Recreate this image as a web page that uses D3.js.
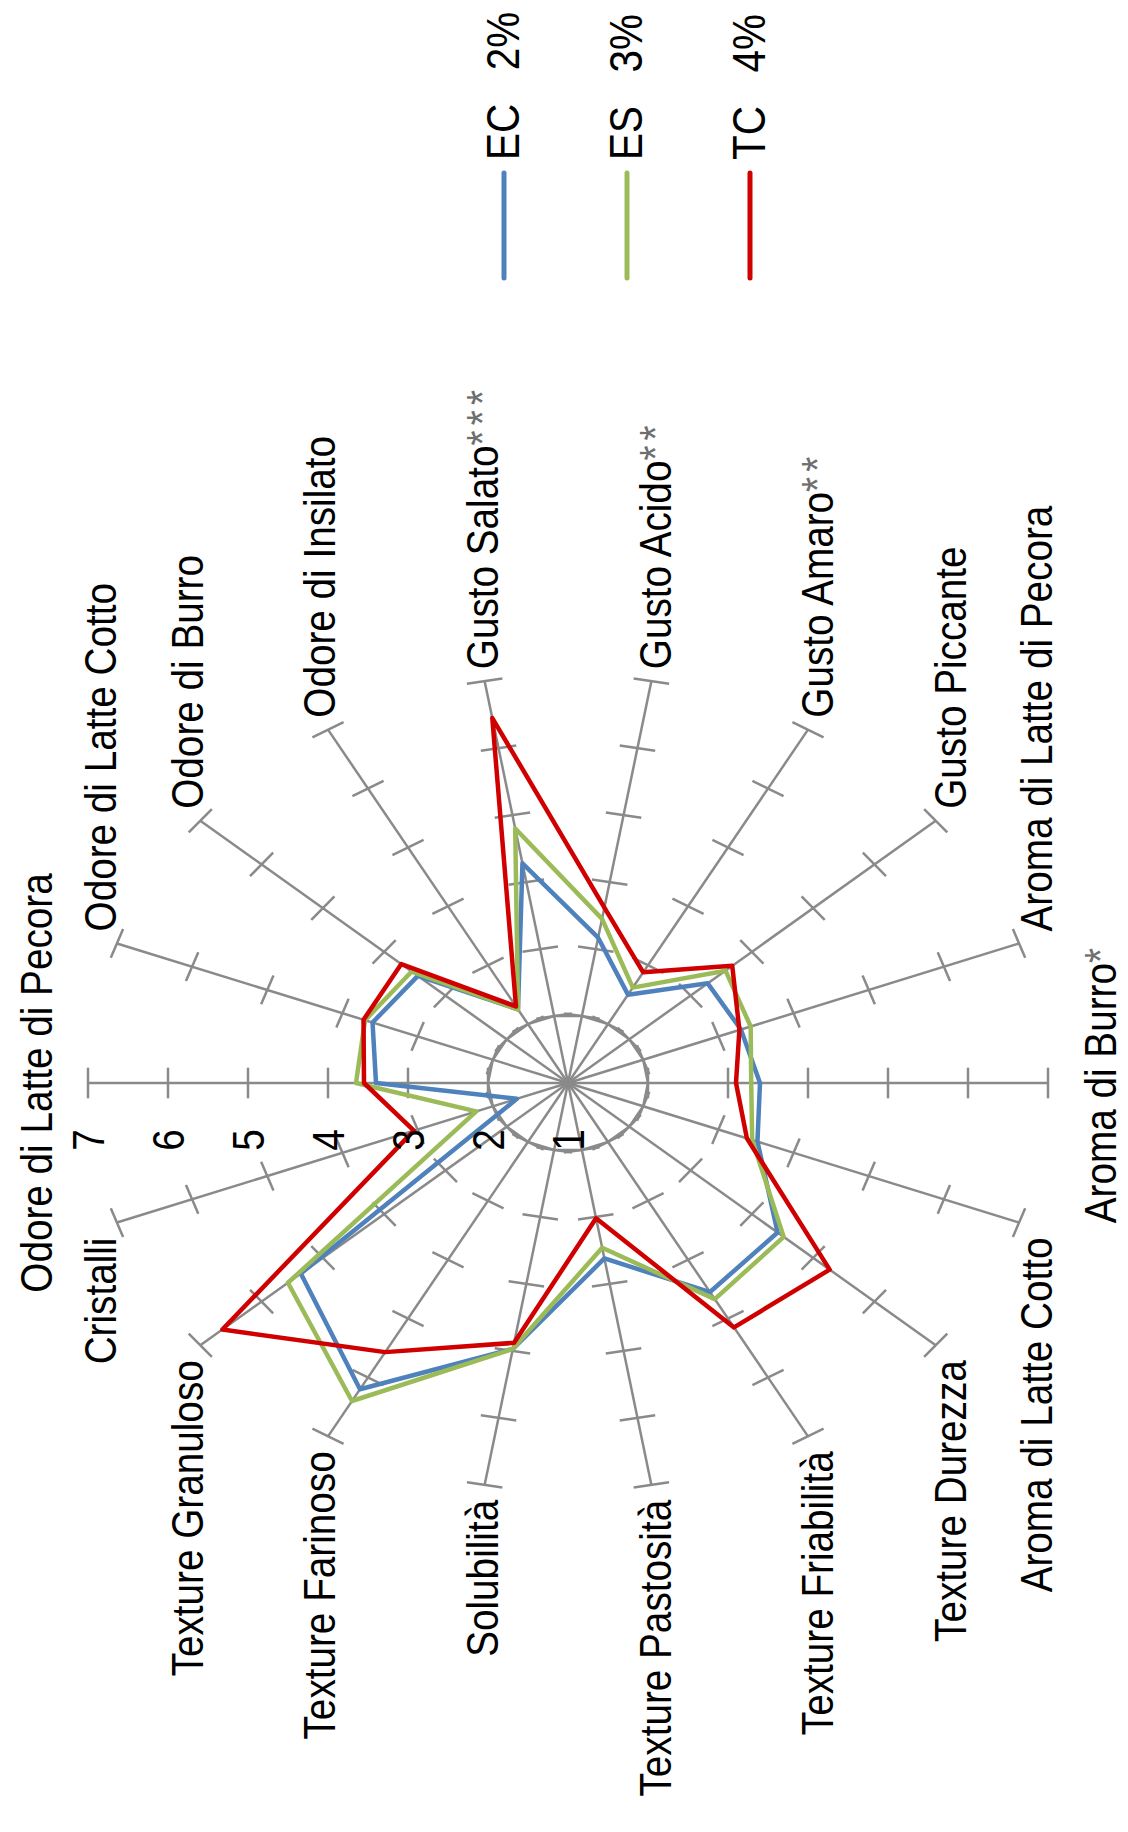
<!DOCTYPE html>
<html>
<head>
<meta charset="utf-8">
<script src="https://cdn.jsdelivr.net/npm/d3@7"></script>
<style>
  html, body { margin: 0; padding: 0; background: #fff; }
  svg { display: block; }
  text { font-family: "Liberation Sans", Arial, sans-serif; fill: #000; }
</style>
</head>
<body>
<svg id="chart" width="1128" height="1832"></svg>
<script>
// Sensory attributes, in clockwise order around the radar
const attributes = [
  "Odore di Latte di Pecora", "Odore di Latte Cotto", "Odore di Burro", "Odore di Insilato",
  "Gusto Salato", "Gusto Acido", "Gusto Amaro", "Gusto Piccante",
  "Aroma di Latte di Pecora", "Aroma di Burro", "Aroma di Latte Cotto", "Texture Durezza",
  "Texture Friabilità", "Texture Pastosità", "Solubilità", "Texture Farinoso",
  "Texture Granuloso", "Cristalli"
];
// Significance marks appended to the attribute names
const significance = ["", "", "", "", "***", "**", "**", "", "", "*", "", "", "", "", "", "", "", ""];

// Series
const seriesNames = ["EC", "ES", "TC"];
const seriesLabels = ["2%", "3%", "4%"];
const ecValues = [3.40, 3.60, 3.45, 2.25, 4.28, 3.17, 2.50, 3.28, 3.30, 3.40, 3.52, 4.42, 4.55, 3.62, 4.97, 6.20, 5.36, 1.68];
const esValues = [3.65, 3.70, 3.55, 2.25, 4.80, 3.45, 2.62, 3.57, 3.43, 3.29, 3.45, 4.52, 4.67, 3.46, 4.97, 6.40, 5.57, 2.22];
const tcValues = [3.55, 3.72, 3.72, 2.30, 6.45, 3.62, 2.88, 3.68, 3.28, 3.10, 3.38, 5.27, 5.15, 3.02, 4.88, 5.57, 6.64, 3.05];
const seriesColors = ["#4F81BD", "#9BBB59", "#D00000"];

// Value axis
const tickValues = [1, 2, 3, 4, 5, 6, 7];
const gridValues = [2];

// ---------------------------------------------------------------------------
const series = seriesNames.map((name, k) => ({
  name, label: seriesLabels[k], color: seriesColors[k],
  values: [ecValues, esValues, tcValues][k]
}));

const cx = 568, cy = 1083;     // radar centre on the page
const squash = 0.85;           // vertical compression of the whole figure
const textScale = 0.86;        // matching compression of glyphs along the baseline

const svg = d3.select("#chart");
const n = attributes.length;
const r = d3.scaleLinear().domain([1, 7]).range([0, 480]);
const angle = d3.scaleLinear().domain([0, n]).range([0, 2 * Math.PI]);

// direction of axis i: first axis points left, then clockwise
const dir = i => [-Math.cos(angle(i)), -Math.sin(angle(i))];
const pt = (i, v) => { const [dx, dy] = dir(i); return [dx * r(v), dy * r(v)]; };
const toPage = ([x, y]) => [cx + x, cy + squash * y];

const plot = svg.append("g")
  .attr("transform", `translate(${cx},${cy}) scale(1,${squash})`);

const axisColor = "#8a8a8a";

// value-2 ring
plot.selectAll("path.grid").data(gridValues).join("path")
  .attr("class", "grid")
  .attr("d", v => d3.line().curve(d3.curveLinearClosed)(d3.range(n).map(i => pt(i, v))))
  .attr("fill", "none").attr("stroke", axisColor).attr("stroke-width", 2.5)
  .attr("vector-effect", "non-scaling-stroke");

// spokes
plot.selectAll("line.spoke").data(d3.range(n)).join("line")
  .attr("class", "spoke")
  .attr("x1", 0).attr("y1", 0)
  .attr("x2", i => pt(i, 7)[0]).attr("y2", i => pt(i, 7)[1])
  .attr("stroke", axisColor).attr("stroke-width", 2.5)
  .attr("vector-effect", "non-scaling-stroke");

// tick marks on every spoke
const tickHalf = 18;
const ticks = [];
d3.range(n).forEach(i => tickValues.filter(v => v > 1).forEach(v => ticks.push({ i, v })));
plot.selectAll("line.tick").data(ticks).join("line")
  .attr("class", "tick")
  .each(function (d) {
    const [px, py] = pt(d.i, d.v);
    const a = angle(d.i);
    const nx = Math.sin(a), ny = -Math.cos(a);
    d3.select(this)
      .attr("x1", px - nx * tickHalf).attr("y1", py - ny * tickHalf)
      .attr("x2", px + nx * tickHalf).attr("y2", py + ny * tickHalf);
  })
  .attr("stroke", axisColor).attr("stroke-width", 2.5)
  .attr("vector-effect", "non-scaling-stroke");

// series outlines
const radarLine = d3.line().curve(d3.curveLinearClosed);
plot.selectAll("path.series").data(series).join("path")
  .attr("class", "series")
  .attr("d", s => radarLine(s.values.map((v, i) => pt(i, v))))
  .attr("fill", "none")
  .attr("stroke", s => s.color)
  .attr("stroke-width", 4.5)
  .attr("stroke-linejoin", "round")
  .attr("vector-effect", "non-scaling-stroke");

// rotated text helper (reads bottom to top)
const fontSize = 45;
function rotText(sel, x, y) {
  return sel.attr("transform", `translate(${x},${y}) rotate(-90) scale(${textScale},1)`);
}

// value labels along the first spoke
svg.append("g").selectAll("text").data(tickValues).join("text")
  .each(function (v) {
    rotText(d3.select(this), cx - r(v), cy + 57);
  })
  .attr("text-anchor", "middle")
  .attr("dominant-baseline", "central")
  .attr("font-size", fontSize)
  .text(v => v);

// attribute labels
const labels = svg.append("g").selectAll("text").data(attributes).join("text")
  .attr("font-size", fontSize)
  .attr("dominant-baseline", "central")
  .each(function (name, i) {
    const a = angle(i);
    const [ex, ey] = toPage(pt(i, 7));
    const sel = d3.select(this);
    if (Math.abs(Math.sin(a)) < 0.1) {
      rotText(sel, ex - Math.cos(a) * 52, ey).attr("text-anchor", "middle");
    } else if (Math.sin(a) > 0) {
      rotText(sel, ex - Math.cos(a) * 18, ey - 12).attr("text-anchor", "start");
    } else {
      rotText(sel, ex - Math.cos(a) * 18, ey + 15).attr("text-anchor", "end");
    }
    sel.append("tspan").text(name);
    if (significance[i]) {
      sel.append("tspan").attr("fill", "#6e6e6e").attr("letter-spacing", 6).text(significance[i]);
    }
  });

// legend
const legendX = d3.scalePoint().domain(seriesNames).range([504, 750]);
const legend = svg.append("g").selectAll("g").data(series).join("g");
legend.append("line")
  .attr("x1", s => legendX(s.name)).attr("x2", s => legendX(s.name))
  .attr("y1", 278).attr("y2", 173)
  .attr("stroke", s => s.color).attr("stroke-width", 5).attr("stroke-linecap", "round");
legend.append("text")
  .attr("font-size", 47)
  .attr("dominant-baseline", "central")
  .attr("text-anchor", "start")
  .style("white-space", "pre")
  .each(function (s) { rotText(d3.select(this), legendX(s.name) - 2, 160); })
  .text(s => `${s.name}   ${s.label}`);
</script>
</body>
</html>
